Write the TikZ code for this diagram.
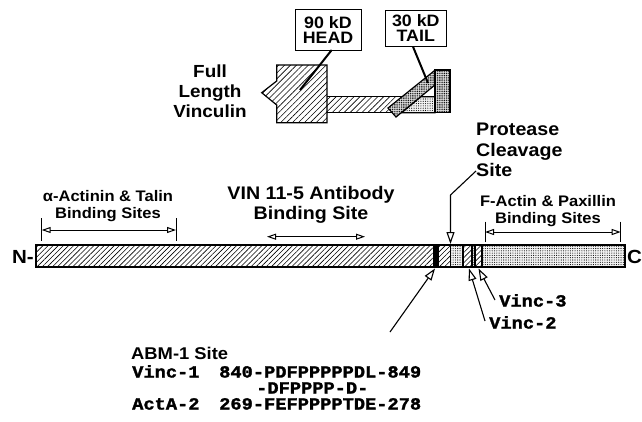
\documentclass[tikz,border=0pt]{standalone}
\usepackage{fontspec}
\setmainfont{Liberation Sans}[FakeStretch=1.08]
\setmonofont{Liberation Mono}[FakeStretch=1.1, BoldFeatures={FakeBold=1.6}]
\usetikzlibrary{patterns.meta,arrows.meta}
\tikzset{
  big/.style={font=\bfseries\fontsize{18.2}{20.5}\selectfont, align=center, inner sep=0pt},
  small/.style={font=\bfseries\fontsize{15.3}{17}\selectfont, align=center, inner sep=0pt},
  boxlab/.style={draw, line width=0.9pt, font=\bfseries\fontsize{16.5}{15}\selectfont, align=center, inner sep=0pt},
  mono/.style={font=\ttfamily\bfseries\fontsize{17}{18}\selectfont, inner sep=0pt, anchor=west, text height=11pt, text depth=2pt},
  hatch/.style={pattern={Lines[angle=45,distance=3.6pt,line width=0.6pt]}},
  bighatch/.style={pattern={Lines[angle=45,distance=4.2pt,line width=0.6pt]}},
  dots/.style={preaction={fill=gray!10}, pattern={Dots[radius=0.55pt,distance=2.3pt]}},
  densedots/.style={preaction={fill=gray!25}, pattern={Dots[radius=0.6pt,distance=1.8pt]}},
  openarrow/.style={-{Triangle[open,length=12pt,width=8pt]}, line width=1.1pt},
  bracket/.style={{Triangle[open,length=9pt,width=6pt]}-{Triangle[open,length=9pt,width=6pt]}, line width=1pt},
  leader/.style={line width=2pt},
}
\begin{document}
\begin{tikzpicture}[x=1pt,y=-1pt]
\useasboundingbox (0,0) rectangle (642,421);

% ---------- full length vinculin ----------
\node[big, font=\bfseries\fontsize{17.5}{20}\selectfont] (full) at (210,91) {Full\\Length\\Vinculin};

% neck
\fill[bighatch] (326,96.7) -- (401.8,96.7) -- (388,108) -- (392.2,112.7) -- (326,112.7) -- cycle;
\draw[line width=1.2pt] (327,96.7) -- (401.8,96.7);
\draw[line width=1.2pt] (327,112.7) -- (392.2,112.7);
% tail filler
\filldraw[dots, line width=1.2pt] (401.7,112.7) -- (420.7,96.7) -- (435,96.7) -- (435,112.7) -- cycle;
% tilted tail bar
\filldraw[densedots, line width=1.2pt] (388,108) -- (396,117) -- (441,80) -- (434,71) -- cycle;
% right tail block
\filldraw[densedots, line width=1.2pt] (435,70) rectangle (450,112.7);
% head
\filldraw[bighatch, line width=1.2pt] (261.7,92.7) -- (276.7,81) -- (276.7,65) -- (327,65) -- (327,122.7) -- (276.7,122.7) -- (276.7,105) -- cycle;

\node[boxlab, minimum width=66pt, minimum height=40.7pt] (hbox) at (328,29.7) {90 kD\\HEAD};
\node[boxlab, minimum width=61.7pt, minimum height=36.7pt] (tbox) at (415.8,28.3) {30 kD\\TAIL};
\coordinate (hbot) at (331.7,50);
\coordinate (hend) at (300,90);
\coordinate (tbot) at (413,46.7);
\coordinate (tend) at (428,83);
\draw[leader] (hbot) -- (hend);
\draw[leader] (tbot) -- (tend);

% ---------- labels above bar ----------
\node[small] (alab) at (108,206.5) {α-Actinin \& Talin\\Binding Sites};
\node[big] (vlab) at (311,205) {VIN 11-5 Antibody\\Binding Site};
\node[big, align=left, anchor=west] (plab) at (476,150) {Protease\\Cleavage\\Site};
\node[small] (flab) at (548,211) {F-Actin \& Paxillin\\Binding Sites};

% brackets
\coordinate (a1) at (41.7,230); \coordinate (a2) at (176,230);
\draw[bracket] (a1) -- (a2);
\draw[line width=1pt] (41.7,218) -- (41.7,241);
\draw[line width=1pt] (176,218) -- (176,241);
\coordinate (f1) at (485,232); \coordinate (f2) at (620.7,232);
\draw[bracket] (f1) -- (f2);
\draw[line width=1pt] (485,221.5) -- (485,242);
\draw[line width=1pt] (620.7,221.5) -- (620.7,242);
\coordinate (v1) at (267,236.7); \coordinate (v2) at (365,236.7);
\draw[bracket] (v1) -- (v2);

% ---------- main bar ----------
\fill[hatch] (36,245) rectangle (432.7,267);
\fill (432.7,245) rectangle (438.5,267);
\fill[hatch] (438.5,245) rectangle (450,267);
\fill[dots] (450,245) rectangle (463,267);
\fill[hatch] (463,245) rectangle (472,267);
\fill[dots] (472,245) rectangle (475,267);
\fill[hatch] (475,245) rectangle (482,267);
\fill[dots] (482,245) rectangle (625,267);
\draw[line width=0.6pt] (450,245) -- (450,267);
\foreach \xx in {463,472,475,482} \draw[line width=1.2pt] (\xx,245) -- (\xx,267);
\draw[line width=1.1pt] (36,245) rectangle (625,267);
\node[big, font=\bfseries\fontsize{19}{20}\selectfont, anchor=east] (nterm) at (34,257) {N-};
\node[big, font=\bfseries\fontsize{19}{20}\selectfont, anchor=west] (cterm) at (627,257) {C};

% protease arrow
\coordinate (pc1) at (476,171);
\coordinate (pc2) at (450.5,195);
\coordinate (pctip) at (450.5,244);
\draw[openarrow, line join=round] (pc1) -- (pc2) -- (pctip);

% lower arrows
\node[mono] (v3) at (499,302) {Vinc-3};
\node[mono] (v2l) at (489,324) {Vinc-2};
\coordinate (abmS) at (390,332); \coordinate (abmT) at (435,268.5);
\coordinate (v2S) at (485,321); \coordinate (v2T) at (469,268.5);
\coordinate (v3S) at (495,300); \coordinate (v3T) at (478.5,268.5);
\draw[openarrow] (abmS) -- (abmT);
\draw[openarrow] (v2S) -- (v2T);
\draw[openarrow] (v3S) -- (v3T);

% ---------- ABM-1 block ----------
\node[big, font=\bfseries\fontsize{17}{20}\selectfont, anchor=west] (abm) at (131,353) {ABM-1 Site};
\node[mono] (vinc1) at (132,373) {Vinc-1};
\node[mono] (seq1) at (219,373) {840-PDFPPPPPDL-849};
\node[mono] (cons) at (256,389) {-DFPPPP-D-};
\node[mono] (acta) at (132,405) {ActA-2};
\node[mono] (seq2) at (219,405) {269-FEFPPPPTDE-278};
\end{tikzpicture}
\end{document}
